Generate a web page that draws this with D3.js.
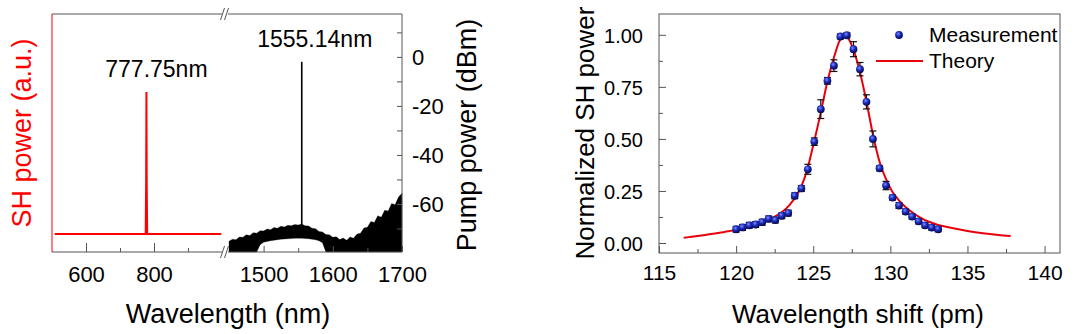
<!DOCTYPE html>
<html>
<head>
<meta charset="utf-8">
<title>SHG spectrum and tuning curve</title>
<script src="https://d3js.org/d3.v7.min.js"></script>
<style>
  body { margin: 0; background: #fff; }
  svg text { font-family: Arial, "Liberation Sans", sans-serif; }
</style>
</head>
<body>
<div id="chart"></div>
<script>
// ---- left panel data: SH spectrum (a.u.) ----
const shWl  = [508, 775.6, 776.9, 777.75, 778.6, 779.9, 998];
const shPow = [0, 0, 0.35, 1, 0.35, 0, 0];
const shLabel = "777.75nm";

// ---- left panel data: pump spectrum (dBm), noisy floor as top/bottom envelope ----
const pumpWl = [1450, 1455, 1460, 1465, 1470, 1475, 1480, 1485, 1490, 1495,
                1500, 1505, 1510, 1515, 1520, 1525, 1530, 1535, 1540, 1545,
                1550, 1555, 1560, 1565, 1570, 1575, 1580, 1585, 1590, 1595,
                1600, 1605, 1610, 1615, 1620, 1625, 1630, 1635, 1640, 1645,
                1650, 1655, 1660, 1665, 1670, 1675, 1680, 1685, 1690, 1695, 1700];
const pumpTop = [-75.2, -74.4, -74.6, -73.5, -73.6, -72.6, -72.9, -71.7, -71.9, -70.9,
                 -71.0, -70.2, -70.5, -69.6, -69.9, -69.1, -69.4, -68.7, -68.9, -68.4,
                 -68.6, -68.2, -68.9, -69.0, -69.9, -70.1, -71.2, -71.4, -72.5, -72.6,
                 -73.6, -73.4, -74.5, -73.9, -74.8, -73.5, -74.0, -72.3, -72.0, -69.8,
                 -69.5, -67.2, -67.6, -64.8, -65.4, -62.6, -62.9, -59.8, -60.3, -57.2, -55.6];
const pumpBottom = [-79.6, -79.6, -79.6, -79.6, -79.6, -79.6, -79.6, -79.6, -79.6, -76.6,
                    -75.6, -75.3, -75.0, -74.8, -74.6, -74.4, -74.3, -74.2, -74.1, -74.0,
                    -74.0, -74.0, -74.1, -74.2, -74.4, -74.6, -75.0, -75.8, -79.6, -79.6,
                    -79.6, -79.6, -79.6, -79.6, -79.6, -79.6, -79.6, -79.6, -79.6, -79.6,
                    -79.6, -79.6, -79.6, -79.6, -79.6, -79.6, -79.6, -79.6, -79.6, -79.6, -79.6];
const pumpPeakWl = 1555.14;
const pumpPeakDbm = -2;
const pumpLabel = "1555.14nm";

const xTicksLow = [600, 800], xMinorLow = [700, 900];
const xTicksHigh = [1500, 1600, 1700], xMinorHigh = [1550, 1650];
const pumpTicks = [0, -20, -40, -60], pumpMinor = [10, -10, -30, -50, -70];

// ---- right panel data: normalized SH power vs wavelength shift ----
const measShift = [120.00, 120.42, 120.85, 121.27, 121.69, 122.11, 122.54, 122.96, 123.38, 123.80,
                   124.23, 124.65, 125.07, 125.49, 125.92, 126.34, 126.76, 127.18, 127.61, 128.03,
                   128.45, 128.87, 129.30, 129.72, 130.14, 130.56, 130.99, 131.41, 131.83, 132.25,
                   132.68, 133.10];
const measPow = [0.066, 0.075, 0.085, 0.089, 0.100, 0.116, 0.110, 0.131, 0.144, 0.227,
                 0.262, 0.354, 0.487, 0.643, 0.779, 0.852, 0.992, 0.998, 0.931, 0.835,
                 0.678, 0.500, 0.359, 0.276, 0.218, 0.180, 0.151, 0.127, 0.104, 0.085,
                 0.074, 0.066];
const measErr = [0.014, 0.014, 0.014, 0.014, 0.014, 0.014, 0.014, 0.014, 0.014, 0.014,
                 0.014, 0.024, 0.018, 0.045, 0.016, 0.028, 0.012, 0.012, 0.036, 0.032,
                 0.034, 0.038, 0.012, 0.020, 0.012, 0.014, 0.012, 0.012, 0.012, 0.012,
                 0.012, 0.012];
const fitShift = [116.6, 117, 117.5, 118, 118.5, 119, 119.5, 120, 120.5, 121,
                  121.5, 122, 122.5, 123, 123.5, 124, 124.3, 124.6, 125, 125.5,
                  125.9, 126.3, 126.7, 127.0, 127.2, 127.6, 128, 128.45, 128.9, 129.3,
                  129.7, 130.1, 130.5, 131, 131.5, 132, 132.5, 133, 134, 135,
                  136, 137, 137.8];
const fitPow = [0.025, 0.029, 0.034, 0.039, 0.044, 0.050, 0.056, 0.063, 0.071, 0.081,
                0.093, 0.108, 0.127, 0.150, 0.186, 0.238, 0.285, 0.350, 0.470, 0.630,
                0.770, 0.880, 0.970, 1.000, 0.990, 0.930, 0.830, 0.680, 0.510, 0.390,
                0.310, 0.250, 0.210, 0.172, 0.143, 0.120, 0.102, 0.089, 0.072, 0.058,
                0.047, 0.039, 0.034];
const shiftTicks = [115, 120, 125, 130, 135, 140];
const shiftMinor = [117.5, 122.5, 127.5, 132.5, 137.5];
const normTicks = [0, 0.25, 0.5, 0.75, 1.0];
const normMinor = [0.125, 0.375, 0.625, 0.875];
const legendNames = ["Measurement", "Theory"];

const W = 1080, H = 334;
const frame = "#555";
const red = "#ff0000";

const svg = d3.select("#chart").append("svg")
  .attr("width", W).attr("height", H);

// ================= left panel =================
const pTop = 14, pBottom = 252;
const xLow = d3.scaleLinear().domain([500, 1000]).range([52, 222]);
const xHigh = d3.scaleLinear().domain([1450, 1700]).range([229, 402]);
const yPump = d3.scaleLinear().domain([-79.6, 17.5]).range([pBottom, pTop]);
const ySH = d3.scaleLinear().domain([-0.127, 1.55]).range([pBottom, pTop]);

// pump noise floor
const pumpRows = pumpWl.map((w, i) => ({ w, t: pumpTop[i], b: pumpBottom[i] }));
svg.append("path")
  .datum(pumpRows)
  .attr("fill", "#000")
  .attr("stroke", "#000")
  .attr("stroke-width", 0.3)
  .attr("d", d3.area().x(d => xHigh(d.w)).y0(d => yPump(d.b)).y1(d => yPump(d.t)));

// pump line
svg.append("line")
  .attr("x1", xHigh(pumpPeakWl)).attr("x2", xHigh(pumpPeakWl))
  .attr("y1", yPump(-70)).attr("y2", yPump(pumpPeakDbm))
  .attr("stroke", "#000").attr("stroke-width", 1.6);

// SH trace
svg.append("path")
  .datum(shWl.map((w, i) => ({ w, p: shPow[i] })))
  .attr("fill", "none")
  .attr("stroke", red)
  .attr("stroke-width", 2)
  .attr("d", d3.line().x(d => xLow(d.w)).y(d => ySH(d.p)));

// frame lines
const g1 = svg.append("g").attr("stroke", frame).attr("stroke-width", 1).attr("fill", "none");
g1.append("line").attr("x1", 52).attr("x2", 222).attr("y1", pTop).attr("y2", pTop);
g1.append("line").attr("x1", 228).attr("x2", 402).attr("y1", pTop).attr("y2", pTop);
g1.append("line").attr("x1", 52).attr("x2", 222).attr("y1", pBottom).attr("y2", pBottom);
g1.append("line").attr("x1", 228).attr("x2", 402).attr("y1", pBottom).attr("y2", pBottom);
g1.append("line").attr("x1", 402).attr("x2", 402).attr("y1", pTop).attr("y2", pBottom);
svg.append("line").attr("x1", 52).attr("x2", 52).attr("y1", pTop).attr("y2", pBottom)
  .attr("stroke", red).attr("stroke-width", 1);

// axis break marks
[pTop, pBottom].forEach(yy => {
  [222.5, 226.5].forEach(xx => {
    g1.append("line")
      .attr("x1", xx - 2).attr("y1", yy + 6)
      .attr("x2", xx + 2).attr("y2", yy - 6);
  });
});

function styleAxis(sel) {
  sel.select(".domain").remove();
  sel.selectAll(".tick line").attr("stroke", frame);
}

// bottom ticks (inward)
svg.append("g").attr("transform", `translate(0,${pBottom})`)
  .call(d3.axisBottom(xLow).tickValues(xMinorLow).tickSize(-4).tickFormat(""))
  .call(styleAxis);
svg.append("g").attr("transform", `translate(0,${pBottom})`)
  .call(d3.axisBottom(xLow).tickValues(xTicksLow).tickSize(-9).tickFormat(d3.format("d")))
  .call(styleAxis)
  .call(g => g.selectAll("text").attr("y", 30).attr("dy", 0)
    .attr("fill", "#000").style("font-size", "22px"));
svg.append("g").attr("transform", `translate(0,${pBottom})`)
  .call(d3.axisBottom(xHigh).tickValues(xMinorHigh).tickSize(-4).tickFormat(""))
  .call(styleAxis);
svg.append("g").attr("transform", `translate(0,${pBottom})`)
  .call(d3.axisBottom(xHigh).tickValues(xTicksHigh).tickSize(-6).tickFormat(d3.format("d")))
  .call(styleAxis)
  .call(g => g.selectAll("text").attr("y", 30).attr("dy", 0)
    .attr("fill", "#000").style("font-size", "22px"));

// pump power axis on the right (ticks inward)
svg.append("g").attr("transform", `translate(402,0)`)
  .call(d3.axisRight(yPump).tickValues(pumpMinor).tickSize(-5).tickFormat(""))
  .call(styleAxis);
svg.append("g").attr("transform", `translate(402,0)`)
  .call(d3.axisRight(yPump).tickValues(pumpTicks).tickSize(-5).tickFormat(d => String(d)))
  .call(styleAxis)
  .call(g => g.selectAll("text").attr("x", 10).attr("dy", "0.36em")
    .attr("fill", "#000").style("font-size", "22px"));

// labels
svg.append("text").attr("x", xLow(777.75) + 10).attr("y", 77)
  .attr("text-anchor", "middle").style("font-size", "23px").text(shLabel);
svg.append("text").attr("x", xHigh(pumpPeakWl) + 13).attr("y", 47)
  .attr("text-anchor", "middle").style("font-size", "23px").text(pumpLabel);

svg.append("text").attr("x", 228).attr("y", 323)
  .attr("text-anchor", "middle").style("font-size", "27px").text("Wavelength (nm)");
svg.append("text").attr("transform", "translate(31,133) rotate(-90)")
  .attr("text-anchor", "middle").attr("fill", red).style("font-size", "27px")
  .text("SH power (a.u.)");
svg.append("text").attr("transform", "translate(476,135) rotate(-90)")
  .attr("text-anchor", "middle").style("font-size", "27px")
  .text("Pump power (dBm)");

// ================= right panel =================
const rTop = 14, rBottom = 253, rLeft = 659, rRight = 1060;
const xS = d3.scaleLinear().domain([115, 141]).range([rLeft, rRight]);
const yN = d3.scaleLinear().domain([-0.048, 1.1]).range([rBottom, rTop]);

svg.append("rect")
  .attr("x", rLeft).attr("y", rTop)
  .attr("width", rRight - rLeft).attr("height", rBottom - rTop)
  .attr("fill", "none").attr("stroke", frame);

svg.append("g").attr("transform", `translate(0,${rBottom})`)
  .call(d3.axisBottom(xS).tickValues(shiftMinor).tickSize(-4).tickFormat(""))
  .call(styleAxis);
svg.append("g").attr("transform", `translate(0,${rBottom})`)
  .call(d3.axisBottom(xS).tickValues(shiftTicks).tickSize(-7))
  .call(styleAxis)
  .call(g => g.selectAll("text").attr("y", 27).attr("dy", 0)
    .attr("fill", "#000").style("font-size", "21px"));
svg.append("g").attr("transform", `translate(${rLeft},0)`)
  .call(d3.axisLeft(yN).tickValues(normMinor).tickSize(-4).tickFormat(""))
  .call(styleAxis);
svg.append("g").attr("transform", `translate(${rLeft},0)`)
  .call(d3.axisLeft(yN).tickValues(normTicks).tickSize(-7).tickFormat(d3.format(".2f")))
  .call(styleAxis)
  .call(g => g.selectAll("text").attr("x", -16).attr("dy", "0.36em")
    .attr("fill", "#000").style("font-size", "20px"));

// theory curve
svg.append("path")
  .datum(fitShift.map((s, i) => ({ s, p: fitPow[i] })))
  .attr("fill", "none").attr("stroke", "#e8000b").attr("stroke-width", 2)
  .attr("d", d3.line().curve(d3.curveMonotoneX).x(d => xS(d.s)).y(d => yN(d.p)));

// sphere gradient for markers
const defs = svg.append("defs");
const grad = defs.append("radialGradient").attr("id", "ball")
  .attr("cx", "40%").attr("cy", "35%").attr("r", "65%");
grad.append("stop").attr("offset", "0%").attr("stop-color", "#7f90ff");
grad.append("stop").attr("offset", "45%").attr("stop-color", "#1f2ec0");
grad.append("stop").attr("offset", "100%").attr("stop-color", "#04074f");

const meas = measShift.map((s, i) => ({ s, p: measPow[i], e: measErr[i] }));
const eb = svg.append("g").attr("stroke", "#111").attr("stroke-width", 1.2);
meas.forEach(d => {
  const x = xS(d.s), y0 = yN(d.p - d.e), y1 = yN(d.p + d.e);
  eb.append("line").attr("x1", x).attr("x2", x).attr("y1", y0).attr("y2", y1);
  eb.append("line").attr("x1", x - 3.5).attr("x2", x + 3.5).attr("y1", y0).attr("y2", y0);
  eb.append("line").attr("x1", x - 3.5).attr("x2", x + 3.5).attr("y1", y1).attr("y2", y1);
});
svg.append("g").selectAll("circle")
  .data(meas).enter().append("circle")
  .attr("cx", d => xS(d.s)).attr("cy", d => yN(d.p))
  .attr("r", 3.9).attr("fill", "url(#ball)");

// legend
const lg = svg.append("g");
lg.append("circle").attr("cx", 899).attr("cy", 35).attr("r", 3.9).attr("fill", "url(#ball)");
lg.append("text").attr("x", 929).attr("y", 42).style("font-size", "21px").text(legendNames[0]);
lg.append("line").attr("x1", 876).attr("x2", 923).attr("y1", 61).attr("y2", 61)
  .attr("stroke", "#e8000b").attr("stroke-width", 2);
lg.append("text").attr("x", 929).attr("y", 68).style("font-size", "21px").text(legendNames[1]);

svg.append("text").attr("x", 858).attr("y", 323)
  .attr("text-anchor", "middle").style("font-size", "26px").text("Wavelength shift (pm)");
svg.append("text").attr("transform", "translate(594,133) rotate(-90)")
  .attr("text-anchor", "middle").style("font-size", "26px").text("Normalized SH power");
</script>
</body>
</html>
